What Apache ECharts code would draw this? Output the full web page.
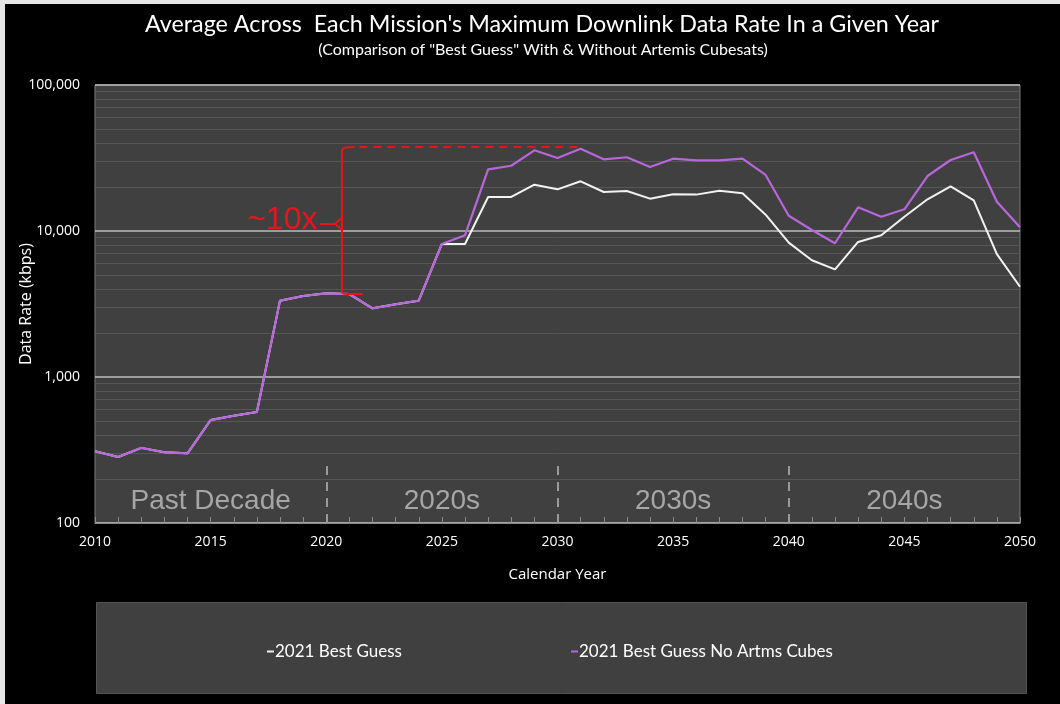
<!DOCTYPE html>
<html>
<head>
<meta charset="utf-8">
<script src="https://cdn.jsdelivr.net/npm/echarts@6/dist/echarts.min.js"></script>
<style>
  html, body { margin: 0; padding: 0; background: #e6e6e6; }
  #frame { position: absolute; left: 5px; top: 4px; width: 1055px; height: 700px; background: #000; }
  #chart { position: absolute; left: -5px; top: -4px; width: 1060px; height: 704px; }
</style>
</head>
<body>
<div id="frame"><div id="chart"></div></div>
<script>
// ---- data ----
const years = [2010, 2011, 2012, 2013, 2014, 2015, 2016, 2017, 2018, 2019,
               2020, 2021, 2022, 2023, 2024, 2025, 2026, 2027, 2028, 2029,
               2030, 2031, 2032, 2033, 2034, 2035, 2036, 2037, 2038, 2039,
               2040, 2041, 2042, 2043, 2044, 2045, 2046, 2047, 2048, 2049, 2050];
const bestGuess = [310, 283, 327, 305, 300, 507, 543, 576, 3334, 3587,
                   3740, 3700, 2953, 3150, 3334, 8150, 8150, 17100, 17100, 20760,
                   19290, 21900, 18500, 18800, 16650, 17830, 17750, 18880, 18130, 12940,
                   8320, 6300, 5460, 8410, 9340, 12530, 16490, 20230, 16230, 6950, 4150];
const noArtemis = [310, 283, 327, 305, 300, 507, 543, 576, 3334, 3587,
                   3740, 3700, 2953, 3150, 3334, 8150, 9340, 26430, 28000, 35700,
                   31600, 36600, 30970, 32000, 27430, 31270, 30500, 30500, 31270, 24200,
                   12730, 10160, 8240, 14530, 12530, 14080, 23800, 30650, 34600, 15880, 10600];
const seriesNames = ['2021 Best Guess', '2021 Best Guess No Artms Cubes'];
const minorGridValues = [200, 300, 400, 500, 600, 700, 800, 900,
                         2000, 3000, 4000, 5000, 6000, 7000, 8000, 9000,
                         20000, 30000, 40000, 50000, 60000, 70000, 80000, 90000];
const decadeLabels = ['Past Decade', '2020s', '2030s', '2040s'];
const decadeCenters = [2015, 2025, 2035, 2045];
const decadeDividers = [2020, 2030, 2040];
const titleText = "Average Across  Each Mission's Maximum Downlink Data Rate In a Given Year";
const subtitleText = '(Comparison of "Best Guess" With & Without Artemis Cubesats)';
const annotationText = '~10x';

const chart = echarts.init(document.getElementById('chart'), null, { renderer: 'canvas' });

const white = '#f2f2f2';
const purple = '#b866dc';
const red = '#e8141c';
const uiFont = 'Open Sans';
const narrowFont = 'Lato';

const bracketX = 2020.68;
const red1 = { color: red, width: 2, type: 'solid' };
const redDash = { color: red, width: 2, type: [8, 6] };

const option = {
  backgroundColor: 'transparent',
  animation: false,
  title: [{
    text: titleText,
    left: 537, textAlign: 'center', top: 8,
    textStyle: { color: '#ffffff', fontFamily: narrowFont, fontSize: 23.3, fontWeight: 'normal' }
  }, {
    text: subtitleText,
    left: 538, textAlign: 'center', top: 37,
    textStyle: { color: '#ffffff', fontFamily: narrowFont, fontSize: 16, fontWeight: 'normal' }
  }],
  graphic: [{
    type: 'rect', left: 96, top: 602, z: -1,
    shape: { width: 930, height: 91 },
    style: { fill: '#404040', stroke: '#555555', lineWidth: 1 }
  }],
  legend: [{
    data: [seriesNames[0]], left: 262, top: 638, icon: 'rect', itemWidth: 7, itemHeight: 2,
    textStyle: { color: '#ffffff', fontFamily: narrowFont, fontSize: 17, padding: [0, 0, 0, -4] }
  }, {
    data: [seriesNames[1]], left: 566, top: 638, icon: 'rect', itemWidth: 7, itemHeight: 2,
    textStyle: { color: '#ffffff', fontFamily: narrowFont, fontSize: 17, padding: [0, 0, 0, -4] }
  }],
  grid: {
    left: 95, right: 40, top: 85, bottom: 181, containLabel: false, outerBoundsMode: 'none',
    show: true, backgroundColor: '#404040', borderColor: '#7a7a7a', borderWidth: 1
  },
  xAxis: {
    type: 'value', min: 2010, max: 2050, interval: 5,
    name: 'Calendar Year', nameLocation: 'middle', nameGap: 44, nameMoveOverlap: false,
    nameTextStyle: { color: '#ffffff', fontFamily: uiFont, fontSize: 15 },
    axisLine: { show: true, lineStyle: { color: '#8a8a8a', width: 1 } },
    axisTick: { show: true, inside: true, length: 6, lineStyle: { color: '#8a8a8a' } },
    minorTick: { show: true, splitNumber: 5, length: 6, lineStyle: { color: '#8a8a8a' } },
    splitLine: { show: false },
    axisLabel: { color: '#ffffff', fontFamily: uiFont, fontSize: 14, margin: 12, formatter: v => String(v) }
  },
  yAxis: {
    type: 'log', logBase: 10, min: 100, max: 100000,
    name: 'Data Rate (kbps)', nameLocation: 'middle', nameGap: 61, nameMoveOverlap: false,
    nameTextStyle: { color: '#ffffff', fontFamily: uiFont, fontSize: 16 },
    axisLine: { show: false },
    axisTick: { show: false },
    splitLine: { show: true, lineStyle: { color: '#bdbdbd', width: 1.5 } },
    axisLabel: { color: '#ffffff', fontFamily: uiFont, fontSize: 14, margin: 15,
      formatter: v => Number(v).toLocaleString('en-US') }
  },
  series: [
    {
      name: 'grid-minor', type: 'line', data: [], silent: true, z: 1,
      markLine: {
        silent: true, symbol: 'none', label: { show: false }, z: 1,
        lineStyle: { color: '#565656', width: 1, type: 'solid' },
        data: minorGridValues.map(v => ({ yAxis: v }))
      }
    },
    {
      name: 'decades', type: 'line', data: [], silent: true, z: 2,
      markLine: {
        silent: true, symbol: 'none', label: { show: false }, z: 2,
        lineStyle: { color: '#9a9a9a', width: 2, type: [9, 7] },
        data: decadeDividers.map(x => [{ coord: [x, 100] }, { coord: [x, 262] }])
      },
      markPoint: {
        silent: true, symbol: 'circle', symbolSize: 0, z: 2,
        label: { show: true, position: 'inside', color: '#a6a6a6', fontFamily: 'Liberation Sans', fontSize: 28 },
        data: decadeLabels.map((t, i) => ({ coord: [decadeCenters[i], 141], value: t,
          label: { formatter: t } }))
      }
    },
    {
      name: seriesNames[0], type: 'line', data: years.map((y, i) => [y, bestGuess[i]]),
      showSymbol: false, symbol: 'none', z: 3,
      lineStyle: { color: white, width: 2 }, itemStyle: { color: white }
    },
    {
      name: seriesNames[1], type: 'line', data: years.map((y, i) => [y, noArtemis[i]]),
      showSymbol: false, symbol: 'none', z: 4,
      lineStyle: { color: purple, width: 2.2 }, itemStyle: { color: purple }
    },
    {
      name: 'annotation', type: 'line', data: [], silent: true, z: 5,
      markLine: {
        silent: true, symbol: 'none', label: { show: false }, z: 6,
        data: [
          [{ coord: [bracketX, 36200], lineStyle: red1 }, { coord: [bracketX, 3780] }],
          [{ coord: [bracketX, 36200], lineStyle: red1 }, { coord: [bracketX + 0.15, 37300] }],
          [{ coord: [bracketX + 0.15, 37300], lineStyle: red1 }, { coord: [bracketX + 0.55, 37600] }],
          [{ coord: [bracketX + 0.75, 37600], lineStyle: redDash }, { coord: [2031, 37600] }],
          [{ coord: [bracketX, 3780], lineStyle: red1 }, { coord: [bracketX + 0.15, 3700] }],
          [{ coord: [bracketX + 0.15, 3700], lineStyle: red1 }, { coord: [bracketX + 0.9, 3700] }],
          [{ coord: [bracketX, 12300], lineStyle: red1 }, { coord: [bracketX - 0.3, 11200] }],
          [{ coord: [bracketX - 0.3, 11200], lineStyle: red1 }, { coord: [bracketX, 10200] }],
          [{ coord: [bracketX - 0.3, 11200], lineStyle: red1 }, { coord: [bracketX - 0.95, 11200] }]
        ]
      },
      markPoint: {
        silent: true, symbol: 'circle', symbolSize: 0, z: 6,
        label: { show: true, position: 'inside', color: red, fontFamily: 'Liberation Sans', fontSize: 32 },
        data: [{ coord: [2018.1, 11900], value: annotationText, label: { formatter: annotationText } }]
      }
    }
  ]
};
chart.setOption(option);
</script>
</body>
</html>
